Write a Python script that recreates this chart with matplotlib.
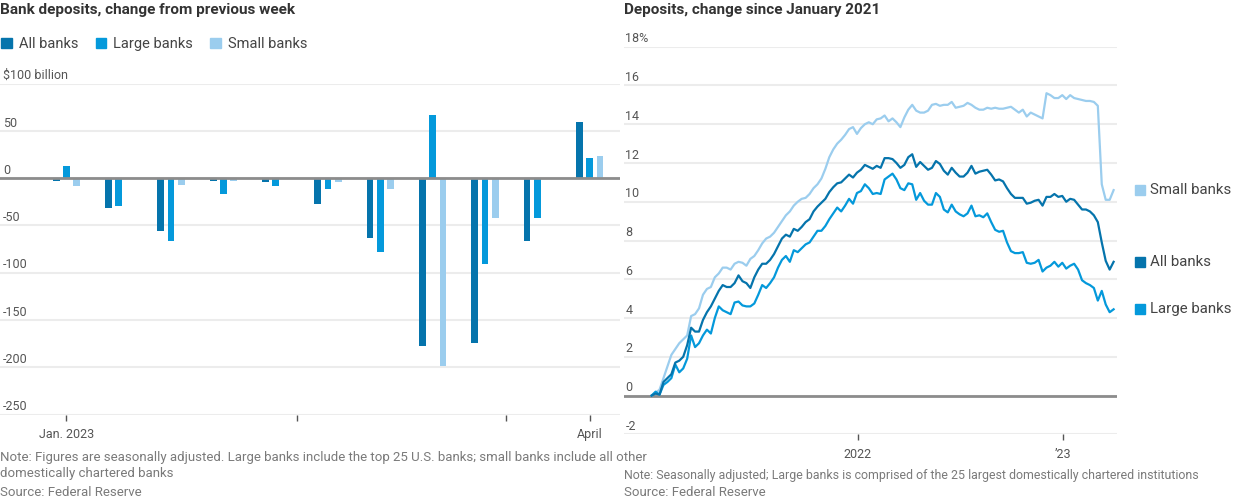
import numpy as np
import pandas as pd
import matplotlib
matplotlib.use('Agg')
import matplotlib.pyplot as plt
import matplotlib.transforms as mtransforms
from matplotlib.patches import Patch

plt.rcParams['font.family'] = ['Roboto', 'DejaVu Sans']

ALL_C = '#0574ac'
LARGE_C = '#0499db'
SMALL_C = '#9bcdee'
GRID_C = '#ececec'
ZERO_C = '#8c8c8c'
TXT_C = '#555555'
NOTE_C = '#7a7a7a'

# left chart: weekly change, $ billion (Jan - end of March 2023)
series_names = ['All banks', 'Large banks', 'Small banks']
weekly_all = [-3, -31, -56, -3, -4, -27, -63, -177, -174, -66, 60]
weekly_large = [13, -29, -66, -17, -8, -11, -78, 67, -91, -42, 21]
weekly_small = [-8, -1, -7, -3, -1, -4, -11, -199, -42, -1, 23]
left_yticks = [100, 50, 0, -50, -100, -150, -200, -250]
left_ylabels = ['$100 billion', '50', '0', '-50', '-100', '-150', '-200', '-250']
left_xticks = [0, 4.4, 8.4, 10]
left_xlabels = ['Jan. 2023', '', '', 'April']

# right chart: % change since January 2021, weekly
start_date = '2021-01-01'
small_pct = [0, 0.15, 0.3, 0.9, 1.5, 2.1, 2.4, 2.7, 2.9, 3.1,
             4.1, 4.2, 4.5, 5.2, 5.5, 5.6, 6.1, 6.3, 6.6, 6.6,
             6.5, 6.8, 6.9, 6.85, 6.7, 7.05, 7.2, 7.5, 7.85, 8.1,
             8.2, 8.4, 8.7, 9.0, 9.3, 9.5, 9.8, 10.0, 10.15, 10.2,
             10.4, 10.7, 10.9, 11.2, 11.7, 12.3, 12.7, 13.0, 13.2, 13.45,
             13.75, 13.85, 13.5, 13.8, 14.0, 14.1, 14.0, 14.25, 14.3, 14.45,
             14.15, 14.3, 14.1, 13.85, 14.35, 14.75, 15.0, 14.7, 14.6, 14.6,
             14.7, 15.0, 15.05, 14.95, 15.0, 15.0, 15.15, 14.85, 14.9, 14.95,
             15.1, 15.0, 14.85, 14.75, 14.75, 14.85, 14.8, 14.85, 14.8, 14.8,
             14.85, 14.9, 14.75, 14.6, 14.75, 14.4, 14.6, 14.5, 14.4, 14.3,
             15.6, 15.5, 15.35, 15.35, 15.5, 15.3, 15.5, 15.35, 15.3, 15.25,
             15.2, 15.2, 15.15, 14.95, 10.9, 10.1, 10.1, 10.6]
all_pct = [0, 0.1, 0.05, 0.7, 0.9, 1.1, 1.7, 1.8, 2.0, 2.6,
           3.5, 3.3, 3.3, 3.9, 4.3, 4.6, 5.0, 5.4, 5.7, 5.6,
           5.6, 5.8, 6.2, 5.9, 5.8, 5.55, 6.1, 6.5, 6.8, 6.8,
           7.0, 7.3, 7.7, 8.1, 8.3, 8.2, 8.6, 8.5, 8.7, 8.95,
           9.1, 9.5, 9.75, 9.95, 10.15, 10.5, 10.75, 10.95, 11.0, 11.2,
           11.4, 11.25, 11.5, 11.65, 11.9, 11.8, 11.7, 11.85, 11.75, 12.25,
           12.25, 12.2, 12.0, 11.75, 11.9, 12.3, 12.45, 11.8, 12.05, 11.85,
           11.65, 11.75, 12.1, 11.95, 11.6, 11.4, 11.75, 11.5, 11.3, 11.3,
           11.5, 11.85, 11.45, 11.55, 11.6, 11.65, 11.4, 11.1, 11.15, 11.05,
           10.7, 10.4, 10.2, 10.2, 10.2, 9.9, 9.95, 10.05, 10.1, 9.8,
           10.25, 10.25, 10.4, 10.25, 10.3, 10.0, 10.15, 10.1, 9.85, 9.6,
           9.6, 9.5, 9.3, 8.95, 7.9, 6.95, 6.5, 6.9]
large_pct = [0, 0.2, 0.05, 0.55, 0.7, 0.9, 1.6, 1.2, 1.4, 1.9,
             3.1, 2.5, 2.7, 3.1, 3.4, 3.2, 4.0, 4.6, 4.4, 4.3,
             4.2, 4.8, 4.85, 4.65, 4.6, 4.6, 4.75, 5.2, 5.7, 5.55,
             5.8, 6.1, 6.6, 7.0, 7.2, 6.9, 7.5, 7.4, 7.6, 7.8,
             7.9, 8.2, 8.5, 8.5, 8.75, 9.1, 9.4, 9.7, 9.5, 9.8,
             10.15, 9.9, 10.45, 10.55, 10.9, 10.7, 10.4, 10.45, 10.4, 11.15,
             11.3, 11.45, 11.15, 10.7, 10.6, 10.95, 10.9, 10.1, 10.45, 10.05,
             9.85, 9.85, 10.45, 10.25, 9.6, 9.45, 9.85, 9.5, 9.35, 9.25,
             9.4, 9.8, 9.25, 9.3, 9.2, 9.4, 8.95, 8.55, 8.45, 8.5,
             7.9, 7.45, 7.35, 7.35, 7.4, 6.85, 6.8, 6.85, 7.0, 6.4,
             6.6, 6.7, 6.9, 6.65, 6.85, 6.55, 6.7, 6.8, 6.5, 5.95,
             5.8, 5.7, 5.55, 4.9, 5.4, 4.7, 4.3, 4.45]
right_yticks = [18, 16, 14, 12, 10, 8, 6, 4, 2, 0, -2]
right_ylabels = ['18%', '16', '14', '12', '10', '8', '6', '4', '2', '0', '-2']
right_xticks = ['2022-01-01', '2023-01-01']
right_xlabels = ['2022', '\u201923']

dates = pd.date_range(start_date, periods=len(all_pct), freq='7D')

fig = plt.figure(figsize=(12.34, 5), dpi=100)
W, H = 1234, 500


def fx(px):
    return px / W


def fy(py):
    return 1 - py / H


# ---------- left: bar chart ----------
axl = fig.add_axes([0, fy(414.5), fx(620), fy(83.7) - fy(414.5)])
idx = np.arange(len(weekly_all))
bw = 0.13
off = 0.197
axl.bar(idx - off, weekly_all, bw, color=ALL_C, zorder=3)
axl.bar(idx, weekly_large, bw, color=LARGE_C, zorder=3)
axl.bar(idx + off, weekly_small, bw, color=SMALL_C, zorder=3)
axl.set_xlim(-1.27, 10.58)
axl.set_ylim(-250, 100)
axl.set_yticks(left_yticks)
axl.tick_params(axis='y', length=0, labelleft=False)
axl.grid(axis='y', color=GRID_C, lw=1.5, zorder=0)
axl.axhline(0, color=ZERO_C, lw=2, zorder=4)
axl.set_xticks(left_xticks)
axl.set_xticklabels(left_xlabels)
axl.tick_params(axis='x', length=4, width=1, color='#555555', pad=6,
                labelsize=9, labelcolor=TXT_C)
trl = mtransforms.offset_copy(axl.get_yaxis_transform(), fig=fig, y=1, units='points')
for v, s in zip(left_yticks, left_ylabels):
    axl.text(0.005, v, s, transform=trl, ha='left', va='bottom', fontsize=9, color=TXT_C)
for sp in axl.spines.values():
    sp.set_visible(False)

# ---------- right: line chart ----------
axr = fig.add_axes([fx(624), fy(434.3), fx(1117) - fx(624), fy(46.7) - fy(434.3)])
axr.plot(dates, small_pct, color=SMALL_C, lw=1.6, zorder=3)
axr.plot(dates, all_pct, color=ALL_C, lw=1.6, zorder=4)
axr.plot(dates, large_pct, color=LARGE_C, lw=1.6, zorder=3)
axr.set_ylim(-2, 18)
axr.set_xlim(pd.Timestamp('2020-11-13'), pd.Timestamp('2023-04-06'))
axr.set_yticks(right_yticks)
axr.tick_params(axis='y', length=0, labelleft=False)
axr.grid(axis='y', color=GRID_C, lw=1.5, zorder=0)
axr.axhline(0, color=ZERO_C, lw=2, zorder=2)
axr.set_xticks(pd.to_datetime(right_xticks))
axr.set_xticklabels(right_xlabels)
axr.tick_params(axis='x', length=4, width=1, color='#555555', pad=6,
                labelsize=9, labelcolor=TXT_C)
trr = mtransforms.offset_copy(axr.get_yaxis_transform(), fig=fig, y=1, units='points')
for v, s in zip(right_yticks, right_ylabels):
    axr.text(0.003, v, s, transform=trr, ha='left', va='bottom', fontsize=9, color=TXT_C)
for sp in axr.spines.values():
    sp.set_visible(False)

# end labels
ytr = axr.get_yaxis_transform()
for name, vals, c in [('Small banks', small_pct, SMALL_C),
                      ('All banks', all_pct, ALL_C),
                      ('Large banks', large_pct, LARGE_C)]:
    axr.plot([1.047], [vals[-1]], marker='s', ms=7, color=c, transform=ytr, clip_on=False)
    axr.text(1.067, vals[-1], name, transform=ytr, ha='left', va='center',
             fontsize=10.8, color='#444444')

# ---------- titles, legend, notes ----------
fig.text(fx(0), fy(10), 'Bank deposits, change from previous week', fontsize=11,
         fontweight='bold', color='#333333', ha='left', va='center')
fig.text(fx(624), fy(10), 'Deposits, change since January 2021', fontsize=11,
         fontweight='bold', color='#333333', ha='left', va='center')

handles = [Patch(color=c) for c in [ALL_C, LARGE_C, SMALL_C]]
fig.legend(handles, series_names, loc='center left', bbox_to_anchor=(fx(-12), fy(44)),
           ncol=3, frameon=False, fontsize=10.5, handlelength=0.75, handleheight=0.75,
           handletextpad=0.45, columnspacing=1.2, labelcolor='#444444')

fig.text(fx(0), fy(457), 'Note: Figures are seasonally adjusted. Large banks include the top 25 '
         'U.S. banks; small banks include all other', fontsize=9.5, color=NOTE_C,
         ha='left', va='center')
fig.text(fx(0), fy(474), 'domestically chartered banks', fontsize=9.5, color=NOTE_C,
         ha='left', va='center')
fig.text(fx(0), fy(492), 'Source: Federal Reserve', fontsize=9.5, color=NOTE_C,
         ha='left', va='center')
fig.text(fx(624), fy(475), 'Note: Seasonally adjusted; Large banks is comprised of the 25 '
         'largest domestically chartered institutions', fontsize=8.9, color=NOTE_C,
         ha='left', va='center')
fig.text(fx(624), fy(493), 'Source: Federal Reserve', fontsize=9.5, color=NOTE_C,
         ha='left', va='center')

fig.savefig('out.png', dpi=100, facecolor='white')
